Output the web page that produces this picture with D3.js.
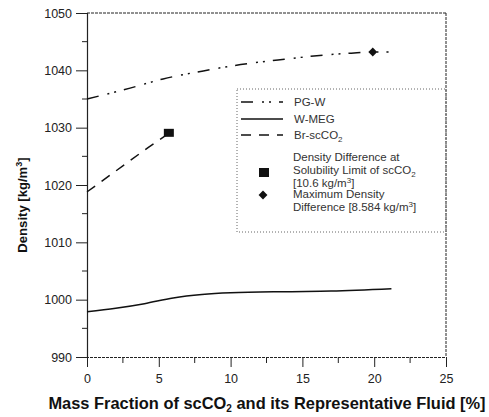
<!DOCTYPE html>
<html><head><meta charset="utf-8">
<script src="https://cdn.jsdelivr.net/npm/d3@7"></script>
<style>body{margin:0;background:#fff;} text{font-family:"Liberation Sans",Arial,sans-serif;}</style>
</head><body>
<script>
const xTicks=[0,5,10,15,20,25];
const yTicks=[990,1000,1010,1020,1030,1040,1050];
const pgwX=[0,3,5.3,8.1,10.7,13.3,15.8,18.4,19.9,21];
const pgwY=[1035.0,1036.9,1038.5,1039.9,1041.0,1041.8,1042.5,1043.0,1043.2,1043.2];
const wmegX=[0,2,4,6,8,10,14,17,21.2];
const wmegY=[997.9,998.5,999.3,1000.3,1000.9,1001.2,1001.4,1001.5,1001.9];
const brX=[0,1.6,2.8,4.3,5.7];
const brY=[1018.8,1021.7,1023.9,1026.6,1029.0];
const squarePt=[5.7,1029.1];
const diamondPt=[19.9,1043.2];
const seriesNames=["PG-W","W-MEG","Br-scCO\u2082"];

const W=489,H=417;
const svg=d3.select("body").append("svg").attr("width",W).attr("height",H);
const x=d3.scaleLinear().domain([0,25]).range([87,446]);
const y=d3.scaleLinear().domain([990,1050]).range([357,13]);

// frame
svg.append("line").attr("x1",x(0)).attr("x2",x(25)).attr("y1",y(1050)).attr("y2",y(1050)).attr("stroke","#222").attr("stroke-width",1).attr("stroke-dasharray","3,1");
svg.append("line").attr("x1",x(25)).attr("x2",x(25)).attr("y1",y(1050)).attr("y2",y(990)).attr("stroke","#222").attr("stroke-width",1).attr("stroke-dasharray","3,1");

const xAxis=d3.axisBottom(x).tickValues(xTicks).tickSize(10).tickFormat(d3.format("d"));
const gx=svg.append("g").attr("transform",`translate(0,${y(990)})`).call(xAxis);
gx.select(".domain").attr("stroke","#222").attr("stroke-dasharray","3,1");
gx.selectAll(".tick line").attr("stroke","#222");
gx.selectAll(".tick text").attr("font-size",12.5).attr("fill","#222").attr("dy","0.9em").attr("y",15);
svg.append("g").selectAll("line").data(d3.range(2.5,25,5)).join("line")
  .attr("x1",d=>x(d)).attr("x2",d=>x(d)).attr("y1",y(990)).attr("y2",y(990)+6).attr("stroke","#222");

const yAxis=d3.axisLeft(y).tickValues(yTicks).tickSize(11).tickFormat(d3.format("d"));
const gy=svg.append("g").attr("transform",`translate(${x(0)},0)`).call(yAxis);
gy.select(".domain").attr("stroke","#222").attr("stroke-width",1.2);
gy.selectAll(".tick line").attr("stroke","#222");
gy.selectAll(".tick text").attr("font-size",12.5).attr("fill","#222").attr("x",-15);
svg.append("g").selectAll("line").data(d3.range(995,1050,10)).join("line")
  .attr("x1",x(0)-5).attr("x2",x(0)).attr("y1",d=>y(d)).attr("y2",d=>y(d)).attr("stroke","#222");

// axis titles
const xt=svg.append("text").attr("x",267).attr("y",409).attr("text-anchor","middle").attr("font-size",15).attr("font-weight","bold").attr("fill","#111")
  .html('Mass Fraction of scCO<tspan dy="3" font-size="10">2</tspan><tspan dy="-3"> and its Representative Fluid [%]</tspan>');
const w0=xt.node().getBBox().width;
xt.attr("font-size",15*438/w0);
const yt=svg.append("text").attr("transform","translate(27,205) rotate(-90)").attr("text-anchor","middle").attr("font-size",14).attr("font-weight","bold").attr("fill","#111")
  .html('Density [kg/m<tspan dy="-5" font-size="9">3</tspan><tspan dy="5">]</tspan>');
const h0=yt.node().getBBox().width;
yt.attr("font-size",14*95/h0);

const line=d3.line().x(d=>x(d[0])).y(d=>y(d[1])).curve(d3.curveMonotoneX);
const pgwDash="12,9,2,5,2,8", brDash="10,8";
svg.append("path").datum(d3.zip(pgwX,pgwY)).attr("d",line).attr("fill","none").attr("stroke","#111").attr("stroke-width",1.5).attr("stroke-dasharray",pgwDash);
svg.append("path").datum(d3.zip(wmegX,wmegY)).attr("d",line).attr("fill","none").attr("stroke","#111").attr("stroke-width",1.5);
svg.append("path").datum(d3.zip(brX,brY)).attr("d",line).attr("fill","none").attr("stroke","#111").attr("stroke-width",1.5).attr("stroke-dasharray",brDash);

svg.append("rect").attr("x",x(squarePt[0])-5).attr("y",y(squarePt[1])-4).attr("width",10).attr("height",8).attr("fill","#111");
const dsym=d3.symbol().type(d3.symbolDiamond2).size(50);
svg.append("path").attr("d",dsym).attr("transform",`translate(${x(diamondPt[0])},${y(diamondPt[1])})`).attr("fill","#111");

// legend
const lg=svg.append("g");
lg.append("rect").attr("x",237).attr("y",89).attr("width",209).attr("height",143).attr("fill","none").attr("stroke","#666").attr("stroke-dasharray","1,2");
const dashes=[pgwDash,null,brDash];
const ly=[102,119,135];
seriesNames.forEach((n,i)=>{
  lg.append("line").attr("x1",241).attr("x2",283).attr("y1",ly[i]).attr("y2",ly[i]).attr("stroke","#111").attr("stroke-width",1.3).attr("stroke-dasharray",dashes[i]);
});
const fs=11.5, fsub=8;
lg.append("text").attr("x",294).attr("y",106).attr("font-size",fs).attr("fill","#333").text(seriesNames[0]);
lg.append("text").attr("x",294).attr("y",123).attr("font-size",fs).attr("fill","#333").text(seriesNames[1]);
lg.append("text").attr("x",294).attr("y",139).attr("font-size",fs).attr("fill","#333").html(`Br-scCO<tspan dy="3" font-size="${fsub}">2</tspan>`);
lg.append("rect").attr("x",259).attr("y",168).attr("width",10).attr("height",9).attr("fill","#111");
lg.append("path").attr("d",dsym).attr("transform","translate(263,195)").attr("fill","#111");
lg.append("text").attr("x",293).attr("y",161).attr("font-size",fs).attr("fill","#333").text("Density Difference at");
lg.append("text").attr("x",293).attr("y",174).attr("font-size",fs).attr("fill","#333").html(`Solubility Limit of scCO<tspan dy="3" font-size="${fsub}">2</tspan>`);
lg.append("text").attr("x",293).attr("y",187).attr("font-size",fs).attr("fill","#333").html(`[10.6 kg/m<tspan dy="-4" font-size="${fsub}">3</tspan><tspan dy="4">]</tspan>`);
lg.append("text").attr("x",293).attr("y",198).attr("font-size",fs).attr("fill","#333").text("Maximum Density");
lg.append("text").attr("x",293).attr("y",211).attr("font-size",fs).attr("fill","#333").html(`Difference [8.584 kg/m<tspan dy="-4" font-size="${fsub}">3</tspan><tspan dy="4">]</tspan>`);
</script>
</body></html>
